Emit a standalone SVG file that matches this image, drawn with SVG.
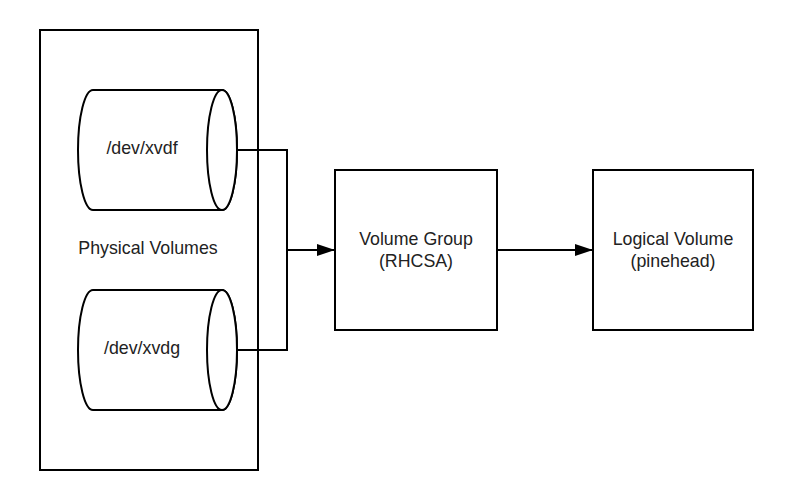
<svg xmlns="http://www.w3.org/2000/svg" width="794" height="500" viewBox="0 0 794 500">
<defs>
<style>
.s{fill:#fff;stroke:#000;stroke-width:2}
.c{fill:none;stroke:#000;stroke-width:2}
.t{font-family:"Liberation Sans",Arial,sans-serif;font-size:17.8px;fill:#222;text-anchor:middle}
</style>
<marker id="ah" viewBox="0 0 18 12" refX="18" refY="6" markerWidth="18" markerHeight="12" markerUnits="userSpaceOnUse" orient="auto">
<path d="M0,0 L18,6 L0,12 Z" fill="#000"/>
</marker>
</defs>
<rect width="794" height="500" fill="#fff"/>
<g id="physical-volumes">
<rect class="s" x="40" y="30" width="218" height="440"/>
<text class="t" x="148" y="254">Physical Volumes</text>
</g>
<g id="xvdf">
<path class="s" d="M93,90 L222,90 A15,60 0 0 1 222,210 L93,210 A15,60 0 0 1 93,90 Z"/>
<ellipse class="s" cx="222" cy="150" rx="15" ry="60"/>
<text class="t" x="142" y="154">/dev/xvdf</text>
</g>
<g id="xvdg">
<path class="s" d="M93,290 L222,290 A15,60 0 0 1 222,410 L93,410 A15,60 0 0 1 93,290 Z"/>
<ellipse class="s" cx="222" cy="350" rx="15" ry="60"/>
<text class="t" x="142" y="354">/dev/xvdg</text>
</g>
<g id="volume-group">
<rect class="s" x="335" y="170" width="162" height="160"/>
<text class="t" x="416" y="245">Volume Group</text>
<text class="t" x="416" y="267">(RHCSA)</text>
</g>
<g id="logical-volume">
<rect class="s" x="593" y="170" width="160" height="160"/>
<text class="t" x="673" y="245">Logical Volume</text>
<text class="t" x="673" y="267">(pinehead)</text>
</g>
<g id="connectors">
<polyline class="c" points="237,150 287,150 287,350 237,350"/>
<line class="c" x1="287" y1="250" x2="335" y2="250" marker-end="url(#ah)"/>
<line class="c" x1="497" y1="250" x2="593" y2="250" marker-end="url(#ah)"/>
</g>
</svg>
